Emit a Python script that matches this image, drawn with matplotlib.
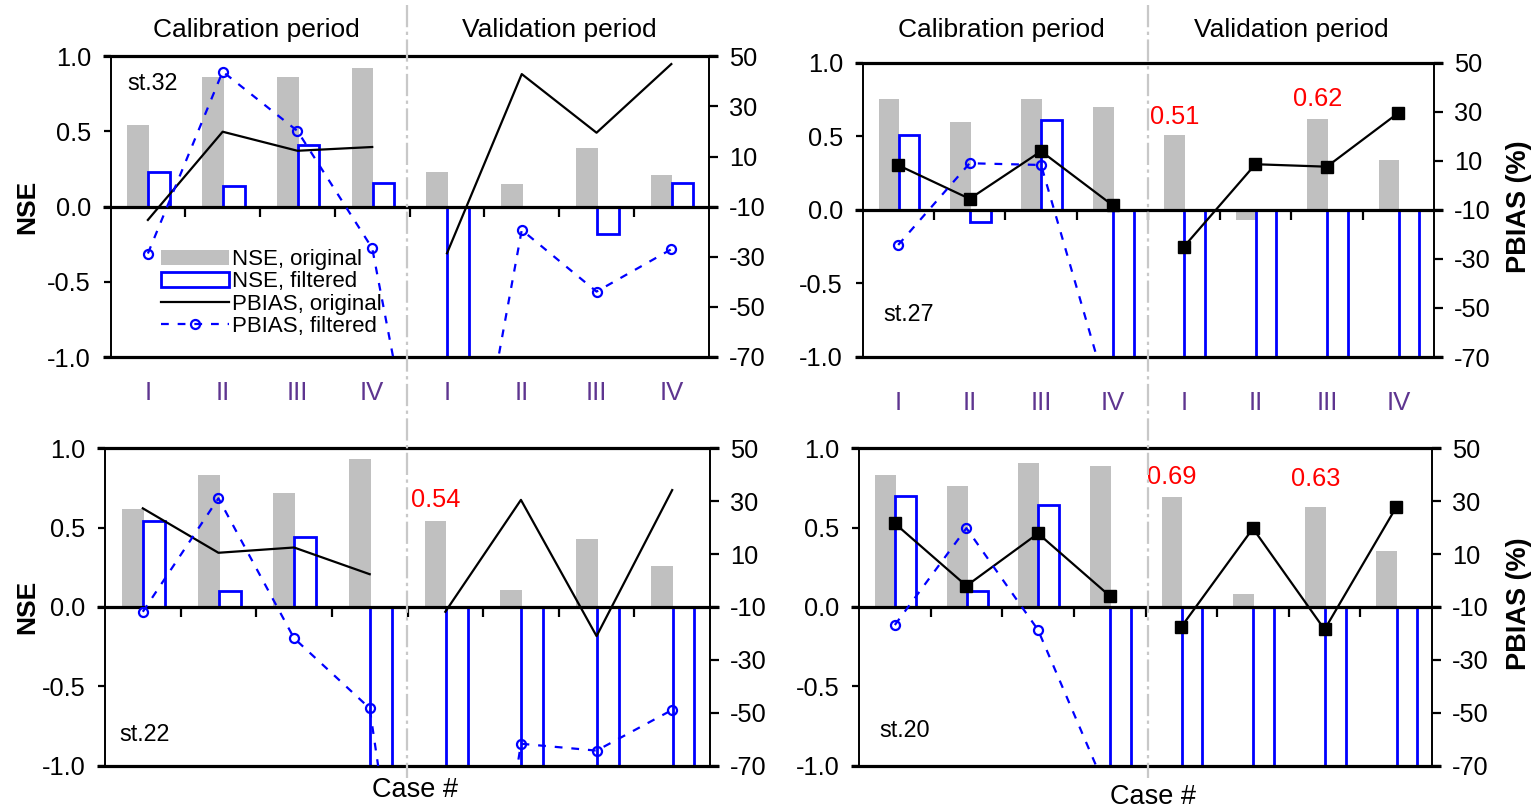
import numpy as np
import matplotlib
matplotlib.use('Agg')
import matplotlib.pyplot as plt
from matplotlib import font_manager, transforms
from matplotlib.lines import Line2D

# ---------------- data ----------------
cases = ['I', 'II', 'III', 'IV', 'I', 'II', 'III', 'IV']
stations = ['st.32', 'st.27', 'st.22', 'st.20']

nse_original_st32 = [0.54, 0.86, 0.86, 0.92, 0.23, 0.15, 0.39, 0.21]
nse_original_st27 = [0.75, 0.60, 0.75, 0.70, 0.51, -0.07, 0.62, 0.34]
nse_original_st22 = [0.62, 0.83, 0.72, 0.93, 0.54, 0.11, 0.43, 0.26]
nse_original_st20 = [0.83, 0.76, 0.91, 0.89, 0.69, 0.08, 0.63, 0.35]

nse_filtered_st32 = [0.23, 0.14, 0.41, 0.16, -4.8, np.nan, -0.18, 0.16]
nse_filtered_st27 = [0.51, -0.08, 0.61, -3.2, -2.6, -5.1, -1.9, -2.4]
nse_filtered_st22 = [0.54, 0.10, 0.44, -2.9, -3.6, -1.8, -4.3, -2.2]
nse_filtered_st20 = [0.70, 0.10, 0.64, -2.3, -1.7, -3.9, -2.8, -5.6]

pbias_original_st32 = [-15.3, 19.9, 12.3, 13.8, -28.6, 42.9, 19.5, 46.9]
pbias_original_st27 = [8.2, -5.5, 13.9, -8.1, -25.0, 8.6, 7.6, 29.5]
pbias_original_st22 = [27.3, 10.5, 12.5, 2.4, -11.8, 30.5, -21.0, 34.2]
pbias_original_st20 = [21.6, -2.0, 17.8, -5.8, -17.5, 19.7, -18.5, 27.7]

pbias_filtered_st32 = [-28.7, 43.9, 20.2, -26.6, -182.0, -19.3, -43.9, -27.0]
pbias_filtered_st27 = [-24.3, 9.0, 8.3, -92.0, -140.0, -125.0, -160.0, -135.0]
pbias_filtered_st22 = [-11.8, 31.1, -21.8, -48.3, -243.0, -61.7, -64.3, -48.9]
pbias_filtered_st20 = [-16.8, 19.8, -18.7, -82.0, -150.0, -170.0, -140.0, -160.0]

# red annotations: (case index, text)
red_notes_st27 = [(4, '0.51'), (6, '0.62')]
red_notes_st22 = [(4, '0.54')]
red_notes_st20 = [(4, '0.69'), (6, '0.63')]

nse_ticks = [-1.0, -0.5, 0.0, 0.5, 1.0]
pbias_ticks = [-70, -50, -30, -10, 10, 30, 50]

# ---------------- assemble ----------------
nse_orig = dict(zip(stations, [nse_original_st32, nse_original_st27, nse_original_st22, nse_original_st20]))
nse_filt = dict(zip(stations, [nse_filtered_st32, nse_filtered_st27, nse_filtered_st22, nse_filtered_st20]))
pb_orig = dict(zip(stations, [pbias_original_st32, pbias_original_st27, pbias_original_st22, pbias_original_st20]))
pb_filt = dict(zip(stations, [pbias_filtered_st32, pbias_filtered_st27, pbias_filtered_st22, pbias_filtered_st20]))
red_notes = {'st.32': [], 'st.27': red_notes_st27, 'st.22': red_notes_st22, 'st.20': red_notes_st20}

# ---------------- fonts ----------------
names = {f.name for f in font_manager.fontManager.ttflist}
if 'Liberation Sans Narrow' in names:
    NUMFONT, NUMSIZE, STSIZE, CATSIZE = 'Liberation Sans Narrow', 21, 20.5, 21
else:
    NUMFONT, NUMSIZE, STSIZE, CATSIZE = 'Liberation Sans', 18.3, 16.8, 18.5
plt.rcParams['font.family'] = ['Liberation Sans', 'DejaVu Sans']
plt.rcParams['axes.unicode_minus'] = False

# ---------------- layout (pixels) ----------------
W, H = 1536, 808
fig = plt.figure(figsize=(W / 100, H / 100), dpi=100)

panel_px = {
    'st.32': (110.5, 56.3, 708.7, 357.0),
    'st.27': (862.5, 62.7, 1434.0, 357.0),
    'st.22': (105.0, 448.3, 710.0, 765.7),
    'st.20': (859.0, 448.3, 1432.0, 765.7),
}
st_label_pos = {'st.32': (0.029, 0.911), 'st.27': (0.037, 0.143),
                'st.22': (0.023, 0.097), 'st.20': (0.035, 0.112)}
red_y = {'st.27': [0.63, 0.755], 'st.22': [0.675], 'st.20': [0.82, 0.805]}
left_col = {'st.32': True, 'st.27': False, 'st.22': True, 'st.20': False}
top_row = {'st.32': True, 'st.27': True, 'st.22': False, 'st.20': False}
square_markers = {'st.32': False, 'st.27': True, 'st.22': False, 'st.20': True}
cat_label_y = {'st.32': -0.12, 'st.27': -0.156}
case_y_px = {'st.22': 790, 'st.20': 797}

GRAY = '#c0c0c0'
BLUE = '#0000ff'
PURPLE = '#5e3590'
x = np.arange(8)

axes = {}
for s in stations:
    l, t, r, b = panel_px[s]
    ax = fig.add_axes([l / W, 1 - b / H, (r - l) / W, (b - t) / H], facecolor='none')
    ax2 = ax.twinx()
    axes[s] = ax
    ax.set_xlim(-0.5, 7.5)
    ax.set_ylim(-1, 1)
    ax2.set_ylim(-70, 50)

    # bars
    no = np.array(nse_orig[s], dtype=float)
    nf = np.array(nse_filt[s], dtype=float)
    hb_gray = ax.bar(x - 0.13, no, width=0.29, color=GRAY, zorder=1, label='NSE, original')
    m = ~np.isnan(nf)
    hb_blue = ax.bar(x[m] + 0.15, nf[m], width=0.29, facecolor='none', edgecolor=BLUE,
                     linewidth=2.0, zorder=2, label='NSE, filtered')

    # borders and zero line
    wpx = r - l
    for yy in (-1, 0, 1):
        ax.axhline(yy, xmin=-8 / wpx, xmax=1 + 9 / wpx, color='black', lw=2.3,
                   clip_on=False, zorder=3, solid_capstyle='butt')
    for sp in ('top', 'bottom', 'right'):
        ax.spines[sp].set_visible(False)
    ax.spines['left'].set_linewidth(1.4)
    for sp in ('top', 'bottom', 'left'):
        ax2.spines[sp].set_visible(False)
    ax2.spines['right'].set_linewidth(1.4)

    # boundary ticks on zero line
    ax.spines['bottom'].set_position(('data', 0))
    ax.set_xticks(np.arange(0.5, 7.0, 1.0))
    ax.set_xticklabels([])
    ax.tick_params(axis='x', direction='out', length=7.5, width=1.6, bottom=True, top=False)

    # left axis
    ax.set_yticks(nse_ticks)
    ax.set_yticklabels(['%.1f' % v for v in nse_ticks], fontfamily=NUMFONT, fontsize=NUMSIZE)
    ax.tick_params(axis='y', direction='out', length=5, width=1.6, pad=9)
    # right axis
    ax2.set_yticks(pbias_ticks)
    ax2.set_yticklabels([str(v) for v in pbias_ticks], fontfamily=NUMFONT, fontsize=NUMSIZE)
    ax2.tick_params(axis='y', direction='out', length=6.5, width=1.6, pad=8)

    # lines
    po = pb_orig[s]
    mk = dict(marker='s', markersize=9, markerfacecolor='black', markeredgecolor='black') \
        if square_markers[s] else {}
    hl_black, = ax2.plot(x[:4], po[:4], color='black', lw=1.6, zorder=4, label='PBIAS, original', **mk)
    ax2.plot(x[4:], po[4:], color='black', lw=1.6, zorder=4, **mk)
    hl_blue, = ax2.plot(x, pb_filt[s], color=BLUE, lw=1.6, ls=(0, (3.5, 4)), marker='o',
                        markersize=6.5, markerfacecolor='none', markeredgecolor=BLUE,
                        markeredgewidth=1.6, zorder=5, label='PBIAS, filtered')

    # station label
    ax.text(st_label_pos[s][0], st_label_pos[s][1], s, transform=ax.transAxes,
            ha='left', va='center', fontfamily=NUMFONT, fontsize=STSIZE, zorder=6)

    # red annotations
    for (ci, txt), yy in zip(red_notes[s], red_y.get(s, [])):
        ax.text(x[ci] - 0.13, yy, txt, color='red', ha='center', va='center',
                fontfamily=NUMFONT, fontsize=NUMSIZE, zorder=6)

    # axis titles
    if left_col[s]:
        ax.text((27 - l) / wpx, 0.5, 'NSE', transform=ax.transAxes, rotation=90,
                ha='center', va='center', fontsize=19, fontweight='bold')
    else:
        ax.text((1519 - l) / wpx, 0.51, 'PBIAS (%)', transform=ax.transAxes, rotation=90,
                ha='center', va='center', fontsize=19.5, fontweight='bold')

    tr_fig = transforms.blended_transform_factory(ax.transData, fig.transFigure)
    if top_row[s]:
        for xi, c in zip(x, cases):
            ax.text(xi, cat_label_y[s], c, transform=ax.get_xaxis_transform(),
                    ha='center', va='center', color=PURPLE, fontfamily=NUMFONT, fontsize=CATSIZE)
        ax.text(1.45, 1 - 30 / H, 'Calibration period', transform=tr_fig,
                ha='center', va='center', fontsize=19)
        ax.text(5.5, 1 - 30 / H, 'Validation period', transform=tr_fig,
                ha='center', va='center', fontsize=19)
    else:
        ax.text(3.6, 1 - case_y_px[s] / H, 'Case #', transform=tr_fig,
                ha='center', va='center', fontsize=19.5)

    if s == 'st.32':
        ax2.legend(handles=[hb_gray, hb_blue, hl_black, hl_blue], loc='upper left',
                   bbox_to_anchor=(0.084, 0.358), frameon=False, borderpad=0,
                   borderaxespad=0, handlelength=3.05, handleheight=0.68,
                   handletextpad=0.15, labelspacing=0.05, fontsize=16)

# dash-dot column separators
for s, xv in (('st.32', 3.46), ('st.27', 3.5)):
    tr = transforms.blended_transform_factory(axes[s].transData, fig.transFigure)
    fig.add_artist(Line2D([xv, xv], [1 - 5 / H, 1 - 778 / H], transform=tr,
                          color='#c8c8c8', lw=1.6, ls=(0, (10, 2, 1.5, 2)), zorder=0.5))

fig.savefig('out.png', dpi=100)
